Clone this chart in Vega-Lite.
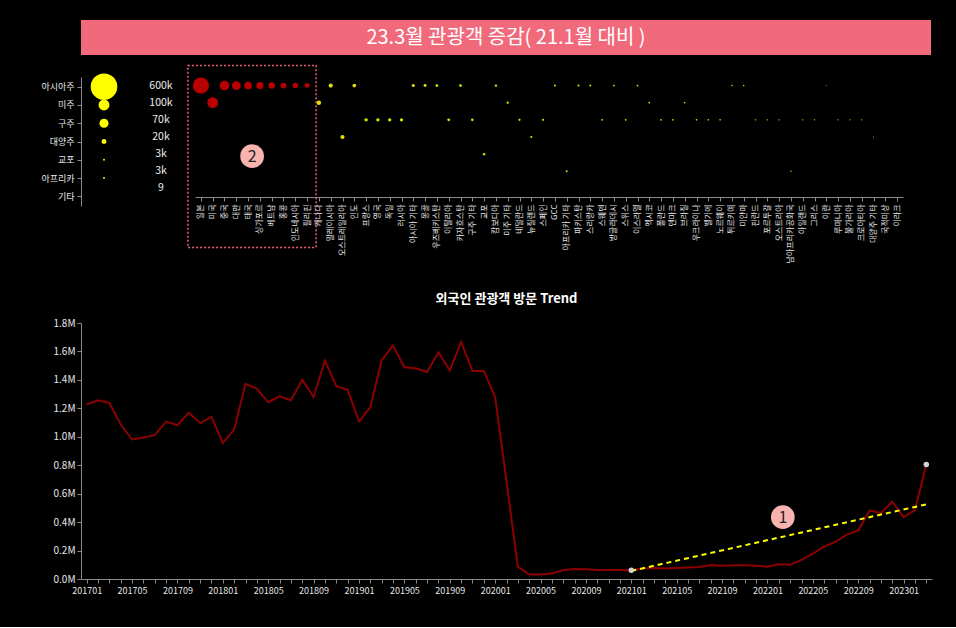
{
  "$schema": "https://vega.github.io/schema/vega-lite/v6.json",
  "background": "#000000",
  "padding": {"left": 40, "top": 20, "right": 24, "bottom": 32},
  "autosize": {"type": "pad"},
  "config": {
    "font": "Noto Sans CJK KR",
    "view": {"stroke": null},
    "axis": {"labelFont": "Noto Sans CJK KR", "labelColor": "#e6e6e6", "domainColor": "#8a8a8a", "tickColor": "#8a8a8a", "grid": false, "title": null},
    "title": {"font": "Noto Sans CJK KR", "color": "#ffffff"}
  },
  "datasets": {
    "conts": [
      {"cont": "아시아주", "total": 600000},
      {"cont": "미주", "total": 100000},
      {"cont": "구주", "total": 70000},
      {"cont": "대양주", "total": 20000},
      {"cont": "교포", "total": 3000},
      {"cont": "아프리카", "total": 3000},
      {"cont": "기타", "total": 9}
    ],
    "bubbles": [
      {"name": "일본", "cont": "아시아주", "v": 137000},
      {"name": "미국", "cont": "미주", "v": 62000},
      {"name": "중국", "cont": "아시아주", "v": 49000},
      {"name": "대만", "cont": "아시아주", "v": 41000},
      {"name": "태국", "cont": "아시아주", "v": 31000},
      {"name": "싱가포르", "cont": "아시아주", "v": 26000},
      {"name": "베트남", "cont": "아시아주", "v": 22000},
      {"name": "홍콩", "cont": "아시아주", "v": 18000},
      {"name": "인도네시아", "cont": "아시아주", "v": 16000},
      {"name": "필리핀", "cont": "아시아주", "v": 13000},
      {"name": "캐나다", "cont": "미주", "v": 10000},
      {"name": "말레이시아", "cont": "아시아주", "v": 9000},
      {"name": "오스트레일리아", "cont": "대양주", "v": 8800},
      {"name": "인도", "cont": "아시아주", "v": 7000},
      {"name": "프랑스", "cont": "구주", "v": 6000},
      {"name": "영국", "cont": "구주", "v": 5800},
      {"name": "독일", "cont": "구주", "v": 5600},
      {"name": "러시아", "cont": "구주", "v": 5400},
      {"name": "아시아 기타", "cont": "아시아주", "v": 5000},
      {"name": "몽골", "cont": "아시아주", "v": 4600},
      {"name": "우즈베키스탄", "cont": "아시아주", "v": 4300},
      {"name": "이탈리아", "cont": "구주", "v": 4000},
      {"name": "카자흐스탄", "cont": "아시아주", "v": 3700},
      {"name": "구주 기타", "cont": "구주", "v": 3400},
      {"name": "교포", "cont": "교포", "v": 3100},
      {"name": "캄보디아", "cont": "아시아주", "v": 2900},
      {"name": "미주 기타", "cont": "미주", "v": 2700},
      {"name": "네덜란드", "cont": "구주", "v": 2500},
      {"name": "뉴질랜드", "cont": "대양주", "v": 2400},
      {"name": "스페인", "cont": "구주", "v": 2300},
      {"name": "GCC", "cont": "아시아주", "v": 2200},
      {"name": "아프리카 기타", "cont": "아프리카", "v": 2100},
      {"name": "파키스탄", "cont": "아시아주", "v": 2000},
      {"name": "스리랑카", "cont": "아시아주", "v": 1900},
      {"name": "스웨덴", "cont": "구주", "v": 1800},
      {"name": "방글라데시", "cont": "아시아주", "v": 1700},
      {"name": "스위스", "cont": "구주", "v": 1650},
      {"name": "이스라엘", "cont": "아시아주", "v": 1600},
      {"name": "멕시코", "cont": "미주", "v": 1550},
      {"name": "폴란드", "cont": "구주", "v": 1500},
      {"name": "덴마크", "cont": "구주", "v": 1450},
      {"name": "브라질", "cont": "미주", "v": 1400},
      {"name": "우크라이나", "cont": "구주", "v": 1350},
      {"name": "벨기에", "cont": "구주", "v": 1300},
      {"name": "노르웨이", "cont": "구주", "v": 1250},
      {"name": "튀르키예", "cont": "아시아주", "v": 1200},
      {"name": "미얀마", "cont": "아시아주", "v": 1150},
      {"name": "핀란드", "cont": "구주", "v": 1100},
      {"name": "포르투갈", "cont": "구주", "v": 1050},
      {"name": "오스트리아", "cont": "구주", "v": 1000},
      {"name": "남아프리카공화국", "cont": "아프리카", "v": 950},
      {"name": "아일랜드", "cont": "구주", "v": 900},
      {"name": "그리스", "cont": "구주", "v": 850},
      {"name": "이란", "cont": "아시아주", "v": 500},
      {"name": "루마니아", "cont": "구주", "v": 750},
      {"name": "불가리아", "cont": "구주", "v": 700},
      {"name": "크로아티아", "cont": "구주", "v": 650},
      {"name": "대양주 기타", "cont": "대양주", "v": 600},
      {"name": "국적미상", "cont": "기타", "v": 9},
      {"name": "이라크", "cont": "기타", "v": 0}
    ],
    "visits": [
      {"ym": "201701", "v": 1227000}, {"ym": "201702", "v": 1257000}, {"ym": "201703", "v": 1238000},
      {"ym": "201704", "v": 1086000}, {"ym": "201705", "v": 981000}, {"ym": "201706", "v": 995000},
      {"ym": "201707", "v": 1011000}, {"ym": "201708", "v": 1107000}, {"ym": "201709", "v": 1081000},
      {"ym": "201710", "v": 1170000}, {"ym": "201711", "v": 1096000}, {"ym": "201712", "v": 1140000},
      {"ym": "201801", "v": 957000}, {"ym": "201802", "v": 1051000}, {"ym": "201803", "v": 1372000},
      {"ym": "201804", "v": 1337000}, {"ym": "201805", "v": 1243000}, {"ym": "201806", "v": 1285000},
      {"ym": "201807", "v": 1257000}, {"ym": "201808", "v": 1400000}, {"ym": "201809", "v": 1280000},
      {"ym": "201810", "v": 1536000}, {"ym": "201811", "v": 1356000}, {"ym": "201812", "v": 1330000},
      {"ym": "201901", "v": 1107000}, {"ym": "201902", "v": 1208000}, {"ym": "201903", "v": 1538000},
      {"ym": "201904", "v": 1641000}, {"ym": "201905", "v": 1489000}, {"ym": "201906", "v": 1482000},
      {"ym": "201907", "v": 1456000}, {"ym": "201908", "v": 1594000}, {"ym": "201909", "v": 1466000},
      {"ym": "201910", "v": 1667000}, {"ym": "201911", "v": 1463000}, {"ym": "201912", "v": 1463000},
      {"ym": "202001", "v": 1278000}, {"ym": "202002", "v": 685000}, {"ym": "202003", "v": 87000},
      {"ym": "202004", "v": 31000}, {"ym": "202005", "v": 31000}, {"ym": "202006", "v": 38000},
      {"ym": "202007", "v": 63000}, {"ym": "202008", "v": 70000}, {"ym": "202009", "v": 68000},
      {"ym": "202010", "v": 63000}, {"ym": "202011", "v": 63000}, {"ym": "202012", "v": 63000},
      {"ym": "202101", "v": 61000}, {"ym": "202102", "v": 73000}, {"ym": "202103", "v": 77000},
      {"ym": "202104", "v": 73000}, {"ym": "202105", "v": 77000}, {"ym": "202106", "v": 80000},
      {"ym": "202107", "v": 84000}, {"ym": "202108", "v": 98000}, {"ym": "202109", "v": 94000},
      {"ym": "202110", "v": 96000}, {"ym": "202111", "v": 96000}, {"ym": "202112", "v": 93000},
      {"ym": "202201", "v": 87000}, {"ym": "202202", "v": 103000}, {"ym": "202203", "v": 101000},
      {"ym": "202204", "v": 134000}, {"ym": "202205", "v": 178000}, {"ym": "202206", "v": 227000},
      {"ym": "202207", "v": 262000}, {"ym": "202208", "v": 312000}, {"ym": "202209", "v": 342000},
      {"ym": "202210", "v": 482000}, {"ym": "202211", "v": 464000}, {"ym": "202212", "v": 543000},
      {"ym": "202301", "v": 435000}, {"ym": "202302", "v": 485000}, {"ym": "202303", "v": 805000}
    ],
    "trend": [
      {"ym": "202101", "v": 57000},
      {"ym": "202303", "v": 525000}
    ],
    "ends": [
      {"ym": "202101", "v": 61000},
      {"ym": "202303", "v": 805000}
    ],
    "note1": [
      {"ym": "202202", "v": 435000}
    ]
  },
  "vconcat": [
    {
      "vconcat": [
        {
          "width": 850,
          "height": 35,
          "view": {"fill": "#f06a7c", "stroke": null},
          "data": {"values": [{"t": "23.3월 관광객 증감( 21.1월 대비 )"}]},
          "mark": {"type": "text", "color": "#ffffff", "fontSize": 20, "font": "Noto Sans CJK KR"},
          "encoding": {"text": {"field": "t", "type": "nominal"}}
        },
        {
          "hconcat": [
            {
              "width": 46,
              "height": 129,
              "data": {"name": "conts"},
              "mark": {"type": "circle", "color": "#ffff00", "opacity": 1},
              "encoding": {
                "y": {"field": "cont", "type": "nominal", "sort": null,
                      "scale": {"type": "point", "padding": 0.53},
                      "axis": {"labelFontSize": 9, "tickSize": 4, "labelPadding": 3}},
                "size": {"field": "total", "type": "quantitative",
                         "scale": {"domain": [0, 600000], "range": [0, 707]}, "legend": null}
              }
            },
            {
              "width": 40,
              "height": 120,
              "data": {"name": "conts"},
              "mark": {"type": "text", "color": "#eeeeee", "fontSize": 10.5},
              "encoding": {
                "y": {"field": "cont", "type": "nominal", "sort": null,
                      "scale": {"type": "point", "padding": 0.5}, "axis": null},
                "text": {"field": "total", "type": "quantitative", "format": "~s"}
              }
            },
            {
              "width": 708,
              "height": 120,
              "layer": [
                {
                  "data": {"name": "bubbles"},
                  "mark": {"type": "circle", "opacity": 1},
                  "encoding": {
                    "x": {"field": "name", "type": "nominal", "sort": null,
                          "scale": {"type": "point", "padding": 0.5},
                          "axis": {"labelAngle": 270, "labelFontSize": 8, "tickSize": 4, "labelPadding": 3, "labelOverlap": false}},
                    "y": {"field": "cont", "type": "nominal",
                          "scale": {"type": "point", "padding": 0.5, "domain": ["아시아주", "미주", "구주", "대양주", "교포", "아프리카", "기타"]},
                          "axis": null},
                    "size": {"field": "v", "type": "quantitative",
                             "scale": {"domain": [0, 137000], "range": [0, 263]}, "legend": null},
                    "color": {"condition": {"test": "datum.v >= 13000", "value": "#b80000"}, "value": "#e2e200"}
                  }
                },
                {
                  "data": {"values": [{}]},
                  "mark": {"type": "rect", "fillOpacity": 0, "stroke": "#f0607a", "strokeWidth": 1.5, "strokeDash": [2, 2],
                           "xOffset": -13, "x2Offset": 9, "yOffset": -20, "y2Offset": 59},
                  "encoding": {
                    "x": {"datum": "일본", "type": "nominal"},
                    "x2": {"datum": "필리핀"},
                    "y": {"datum": "아시아주", "type": "nominal"},
                    "y2": {"datum": "기타"}
                  }
                },
                {
                  "data": {"values": [{}]},
                  "mark": {"type": "circle", "color": "#f8b3af", "opacity": 1, "size": 560, "xOffset": 4, "yOffset": 2},
                  "encoding": {
                    "x": {"datum": "태국", "type": "nominal"},
                    "y": {"datum": "교포", "type": "nominal"}
                  }
                },
                {
                  "data": {"values": [{}]},
                  "mark": {"type": "text", "color": "#222222", "fontSize": 16, "xOffset": 4, "yOffset": 3},
                  "encoding": {
                    "x": {"datum": "태국", "type": "nominal"},
                    "y": {"datum": "교포", "type": "nominal"},
                    "text": {"value": "2"}
                  }
                }
              ]
            }
          ],
          "spacing": 14,
          "bounds": "flush",
          "resolve": {"scale": {"x": "independent", "y": "independent", "size": "independent", "color": "independent"}}
        }
      ],
      "spacing": 22,
      "bounds": "flush"
    },
    {
      "width": 851,
      "height": 256,
      "title": {"text": "외국인 관광객 방문 Trend", "color": "#ffffff", "fontSize": 13, "fontWeight": "bold", "anchor": "middle", "offset": 12},
      "encoding": {
        "x": {"field": "ym", "type": "ordinal",
              "axis": {"labelAngle": 0, "labelFontSize": 9, "tickSize": 4, "labelOverlap": false, "labelPadding": 3,
                       "labelExpr": "(toNumber(substring(datum.value, 4, 6)) - 1) % 4 == 0 ? datum.value : ''"}},
        "y": {"field": "v", "type": "quantitative",
              "scale": {"domain": [0, 1800000]},
              "axis": {"tickCount": 9, "labelFontSize": 10, "tickSize": 4, "labelOverlap": false, "labelFlush": false,
                       "labelExpr": "format(datum.value / 1000000, '.1f') + 'M'"}}
      },
      "layer": [
        {
          "data": {"name": "visits"},
          "mark": {"type": "line", "color": "#8b0000", "strokeWidth": 2}
        },
        {
          "data": {"name": "trend"},
          "mark": {"type": "line", "color": "#ffff00", "strokeWidth": 2, "strokeDash": [5, 4]}
        },
        {
          "data": {"name": "ends"},
          "mark": {"type": "circle", "color": "#d2d2d2", "opacity": 1, "size": 30}
        },
        {
          "data": {"name": "note1"},
          "mark": {"type": "circle", "color": "#f8b3af", "opacity": 1, "size": 560, "xOffset": 4}
        },
        {
          "data": {"name": "note1"},
          "mark": {"type": "text", "color": "#222222", "fontSize": 16, "xOffset": 4, "yOffset": 1, "text": "1"}
        }
      ]
    }
  ],
  "spacing": 303,
  "bounds": "flush",
  "resolve": {"scale": {"x": "independent", "y": "independent", "size": "independent", "color": "independent"}}
}
